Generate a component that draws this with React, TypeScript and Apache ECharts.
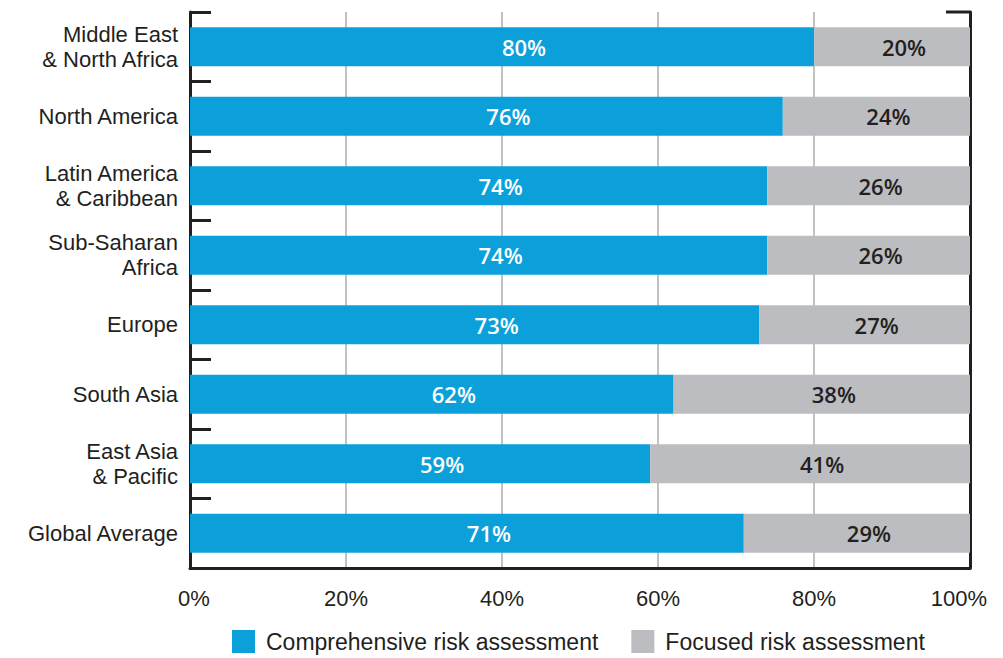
import React, { useEffect, useRef } from "react";
import * as echarts from "echarts";

const categories = [
  "Middle East\n& North Africa",
  "North America",
  "Latin America\n& Caribbean",
  "Sub-Saharan\nAfrica",
  "Europe",
  "South Asia",
  "East Asia\n& Pacific",
  "Global Average",
];
const comprehensive = [80, 76, 74, 74, 73, 62, 59, 71];
const focused = [20, 24, 26, 26, 27, 38, 41, 29];
const xTicks = { min: 0, max: 100, interval: 20 };

const DARK = "#231f20";
const BLUE = "#0ca0db";
const GREY = "#bcbdc0";
const FONT = "'Liberation Sans', Arial, sans-serif";
const FONT_BAR = "'Open Sans', sans-serif";

export default function App() {
  const ref = useRef<HTMLDivElement>(null);
  useEffect(() => {
    document.body.style.margin = "0";
    const chart = echarts.init(ref.current!, null, { renderer: "svg" });
    const gridLeft = 190;
    const gridRight = 33;
    const gridTop = 12;
    const gridBottom = 90;
    const W = 1003;
    const axisText = { fontSize: 22, color: DARK, fontFamily: FONT };
    chart.setOption({
      animation: false,
      textStyle: { fontFamily: FONT },
      grid: { left: gridLeft, right: gridRight, top: gridTop, bottom: gridBottom, containLabel: false },
      legend: {
        left: 227,
        bottom: 0,
        itemWidth: 23,
        itemHeight: 23,
        itemGap: 33,
        icon: "rect",
        textStyle: { fontSize: 23, color: DARK, fontFamily: FONT, padding: [0, 0, 0, 6] },
        data: ["Comprehensive risk assessment", "Focused risk assessment"],
      },
      xAxis: {
        type: "value",
        min: xTicks.min,
        max: xTicks.max,
        interval: xTicks.interval,
        axisLine: { show: true, lineStyle: { color: DARK, width: 3 } },
        axisTick: { show: false },
        splitLine: { show: true, lineStyle: { color: "#c2c2c2", width: 2 } },
        axisLabel: {
          ...axisText,
          margin: 19,
          formatter: (v: number) =>
            v === xTicks.max ? `{r|${v}%}` : v === xTicks.min ? `{l|${v}%}` : `${v}%`,
          rich: {
            r: { ...axisText, padding: [0, 22, 0, 0] },
            l: { ...axisText, padding: [0, 0, 0, 8] },
          },
        },
      },
      yAxis: [
        {
          type: "category",
          inverse: true,
          data: categories,
          axisLine: { show: true, lineStyle: { color: DARK, width: 3 } },
          axisTick: { show: true, inside: true, length: 21, lineStyle: { color: DARK, width: 3 } },
          axisLabel: { ...axisText, lineHeight: 25, margin: 12 },
        },
        {
          type: "category",
          inverse: true,
          position: "right",
          data: categories,
          axisLine: { show: true, lineStyle: { color: DARK, width: 3 } },
          axisTick: { show: false },
          axisLabel: { show: false },
        },
      ],
      graphic: [
        {
          type: "line",
          shape: { x1: W - gridRight - 24, y1: gridTop, x2: W - gridRight, y2: gridTop },
          style: { stroke: DARK, lineWidth: 3 },
        },
      ],
      series: [
        {
          name: "Comprehensive risk assessment",
          type: "bar",
          stack: "total",
          barWidth: 39,
          itemStyle: { color: BLUE },
          label: { show: true, position: "inside", offset: [22, 0], formatter: "{c}%", fontSize: 22, fontWeight: 600, color: "#ffffff", fontFamily: FONT_BAR },
          data: comprehensive,
        },
        {
          name: "Focused risk assessment",
          type: "bar",
          stack: "total",
          barWidth: 39,
          itemStyle: { color: GREY },
          label: { show: true, position: "inside", offset: [12, 0], formatter: "{c}%", fontSize: 22, fontWeight: 600, color: DARK, fontFamily: FONT_BAR },
          data: focused,
        },
      ],
    });
    return () => chart.dispose();
  }, []);
  return <div ref={ref} style={{ width: 1003, height: 658 }} />;
}
